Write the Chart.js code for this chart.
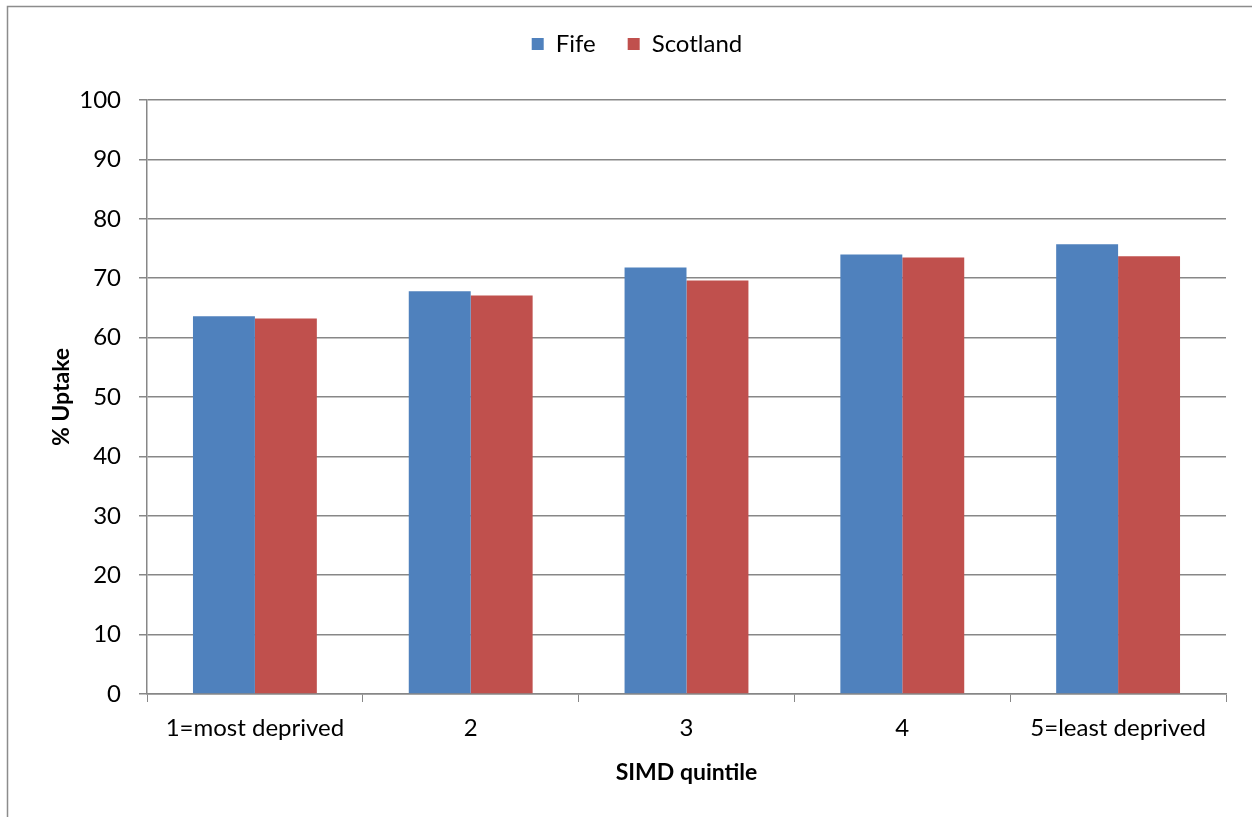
<!DOCTYPE html>
<html lang="en">

<head>
    <meta charset="UTF-8">
    <title>SIMD uptake</title>
    <script src="https://cdn.jsdelivr.net/npm/chart.js@4.4.1/dist/chart.umd.min.js"></script>
    <style>
        body { margin: 0; background: #fff; }
    </style>
</head>

<body>
    <canvas id="myChart" width="1252" height="817"></canvas>

    <script>
        // uptake by SIMD quintile
        const quintiles = ['1=most deprived', '2', '3', '4', '5=least deprived'];
        const fifeUptake = [63.6, 67.8, 71.8, 74.0, 75.7];
        const scotlandUptake = [63.2, 67.1, 69.6, 73.5, 73.7];
        const yTicks = [0, 10, 20, 30, 40, 50, 60, 70, 80, 90, 100];

        const gridGrey = '#878787';
        const fontFamily = 'Lato, "Open Sans", sans-serif';

        // white background + outer frame
        const frame = {
            id: 'frame',
            beforeDraw(chart) {
                const c = chart.ctx;
                c.save();
                c.fillStyle = '#fff';
                c.fillRect(0, 0, chart.width, chart.height);
                c.strokeStyle = '#8c8c8c';
                c.lineWidth = 1.5;
                c.strokeRect(7.5, 6.5, chart.width + 10, chart.height + 10);
                c.restore();
            }
        };

        // reserve the top band for the legend, centred a bit right of the plot
        const legendBand = {
            id: 'legendBand',
            beforeInit(chart) {
                const fit = chart.legend.fit;
                chart.legend.fit = function () {
                    fit.bind(chart.legend)();
                    this.height = 100;
                };
            },
            afterLayout(chart) {
                chart.legend.left = 48;
            }
        };

        const ctx = document.getElementById('myChart').getContext('2d');
        const myChart = new Chart(ctx, {
            type: 'bar',
            data: {
                labels: quintiles,
                datasets: [{
                    label: 'Fife',
                    data: fifeUptake,
                    backgroundColor: '#4F81BD',
                    borderWidth: 0
                }, {
                    label: 'Scotland',
                    data: scotlandUptake,
                    backgroundColor: '#C0504D',
                    borderWidth: 0
                }]
            },
            options: {
                responsive: false,
                animation: false,
                layout: { padding: { top: 0, right: 26, bottom: 0, left: 0 } },
                datasets: {
                    bar: { barPercentage: 1.0, categoryPercentage: 0.574 }
                },
                plugins: {
                    tooltip: { enabled: false },
                    legend: {
                        position: 'top',
                        labels: {
                            boxWidth: 12,
                            boxHeight: 12,
                            padding: 32,
                            color: '#000',
                            font: { family: fontFamily, size: 24 }
                        }
                    }
                },
                scales: {
                    x: {
                        afterFit(s) { s.height = 123; },
                        grid: {
                            display: true,
                            drawOnChartArea: false,
                            drawTicks: true,
                            tickLength: 8,
                            color: gridGrey,
                            offset: true
                        },
                        border: { color: gridGrey, width: 1.5 },
                        ticks: {
                            color: '#000',
                            padding: 12,
                            maxRotation: 0,
                            font: { family: fontFamily, size: 24 }
                        },
                        title: {
                            display: true,
                            text: 'SIMD quintile',
                            color: '#000',
                            padding: { top: 10, bottom: 31 },
                            font: { family: fontFamily, size: 23, weight: 'bold' }
                        }
                    },
                    y: {
                        min: 0,
                        max: 100,
                        afterFit(s) { s.width = 147; },
                        afterBuildTicks(s) { s.ticks = yTicks.map(v => ({ value: v })); },
                        grid: {
                            color: gridGrey,
                            lineWidth: 1.5,
                            tickLength: 8
                        },
                        border: { color: gridGrey, width: 1.5 },
                        ticks: {
                            color: '#000',
                            padding: 18,
                            font: { family: fontFamily, size: 24 }
                        },
                        title: {
                            display: true,
                            text: '% Uptake',
                            color: '#000',
                            padding: { top: 48 },
                            font: { family: fontFamily, size: 23, weight: 'bold' }
                        }
                    }
                }
            },
            plugins: [frame, legendBand]
        });
    </script>
</body>

</html>
